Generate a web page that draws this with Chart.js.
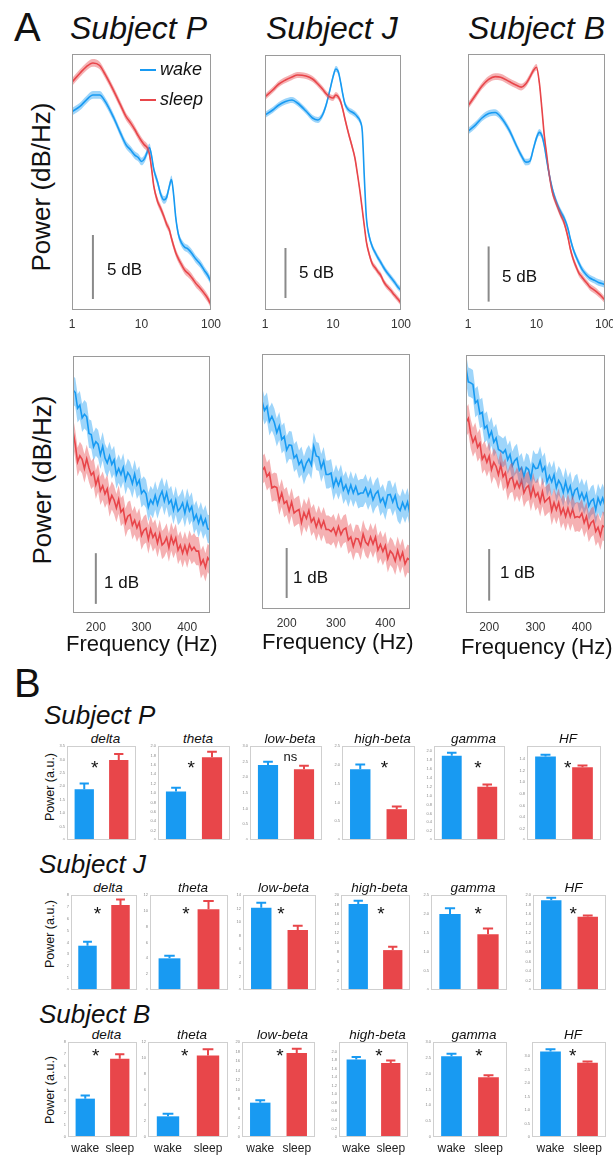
<!DOCTYPE html>
<html>
<head>
<meta charset="utf-8">
<script src="https://cdn.jsdelivr.net/npm/chart.js@4.4.0/dist/chart.umd.min.js"></script>
<style>
  body { margin: 0; background: #fff; }
  #fig { position: relative; width: 613px; height: 1157px; overflow: hidden;
         font-family: "Liberation Sans", Arial, sans-serif; color: #111; }
  #fig canvas { position: absolute; }
  .t { position: absolute; line-height: 1; white-space: nowrap; }
</style>
</head>
<body>
<div id="fig"></div>
<script>
// ---- data: low-frequency spectra (dB, arbitrary offset) ----
var loFreq = [1, 1.3, 1.6, 2, 2.5, 3, 4, 5, 6, 7, 8, 9, 10, 11, 12, 13, 14, 15, 17, 19, 21, 23, 25, 27, 29, 31, 34, 38, 42, 46, 50, 55, 60, 70, 80, 90, 100];
var pWakeLo = [15.5, 15.9, 16.4, 16.8, 16.8, 16.3, 15.0, 13.8, 12.9, 12.5, 12.1, 11.9, 11.6, 11.8, 12.3, 12.7, 12.0, 11.0, 10.0, 9.0, 8.6, 8.8, 9.6, 10.2, 9.0, 7.3, 5.9, 5.2, 4.9, 4.8, 4.6, 4.3, 4.0, 3.6, 3.1, 2.7, 2.2];
var pSleepLo = [17.8, 18.5, 19.0, 19.3, 19.1, 18.4, 17.1, 16.0, 15.1, 14.6, 14.1, 13.6, 13.2, 12.9, 12.7, 12.2, 11.0, 9.7, 8.5, 7.9, 7.3, 6.7, 6.3, 5.6, 5.0, 4.5, 4.0, 3.5, 3.1, 2.9, 2.7, 2.4, 2.1, 1.7, 1.3, 0.9, 0.4];
var jWakeLo = [19.5, 20.0, 20.5, 20.85, 21.0, 20.7, 19.9, 19.2, 19.0, 19.5, 20.6, 22.0, 23.3, 24.1, 23.8, 22.7, 21.5, 20.6, 20.0, 19.8, 19.6, 19.3, 18.9, 17.8, 13.0, 9.2, 7.4, 6.3, 5.7, 5.2, 4.8, 4.3, 3.9, 3.3, 2.8, 2.3, 2.0];
var jSleepLo = [21.3, 22.0, 22.6, 23.0, 23.3, 23.5, 23.4, 23.1, 22.6, 22.1, 21.6, 21.3, 21.2, 21.5, 21.3, 20.8, 20.0, 19.1, 17.6, 16.4, 15.2, 13.5, 11.8, 10.0, 8.3, 6.8, 5.6, 4.6, 4.2, 3.8, 3.5, 2.9, 2.5, 2.0, 1.5, 1.1, 0.7];
var bWakeLo = [16.2, 16.8, 17.4, 17.8, 17.9, 17.5, 16.3, 15.0, 14.0, 13.4, 13.5, 14.6, 15.6, 16.1, 15.8, 14.9, 13.7, 12.6, 11.0, 10.0, 9.3, 8.8, 8.4, 7.9, 7.3, 6.5, 5.6, 4.8, 4.2, 3.7, 3.4, 3.1, 2.9, 2.7, 2.5, 2.4, 2.3];
var bSleepLo = [18.5, 19.5, 20.3, 20.9, 21.15, 21.1, 20.7, 20.4, 20.2, 20.5, 21.1, 21.7, 22.0, 20.6, 18.2, 15.8, 14.2, 12.7, 10.7, 9.8, 9.1, 8.5, 8.0, 7.3, 6.5, 5.6, 4.7, 3.9, 3.3, 3.0, 2.7, 2.4, 2.1, 1.8, 1.5, 1.2, 0.9];
var loTicks = [1, 10, 100];
var loYMax = [20, 25.5, 23.2];
var loScaleBar = [0.86, 1.2, 0.76];   // bottom of the 5 dB bar
var loSem = 0.3;

// ---- data: high-frequency spectra ----
var hiFreq = [150, 155, 160, 165, 170, 175, 180, 185, 190, 195, 200, 205, 210, 215, 220, 225, 230, 235, 240, 245, 250, 255, 260, 265, 270, 275, 280, 285, 290, 295, 300, 305, 310, 315, 320, 325, 330, 335, 340, 345, 350, 355, 360, 365, 370, 375, 380, 385, 390, 395, 400, 405, 410, 415, 420, 425, 430, 435, 440, 445, 450];
var pWakeHi = [4.40, 4.35, 4.04, 4.10, 3.85, 3.92, 3.87, 3.54, 3.52, 3.28, 3.38, 3.33, 3.12, 3.29, 3.06, 2.96, 3.10, 2.93, 3.02, 2.73, 2.85, 2.73, 2.87, 2.62, 2.77, 2.70, 2.55, 2.74, 2.53, 2.62, 2.36, 2.42, 2.35, 2.09, 2.23, 2.15, 2.32, 2.14, 2.30, 2.40, 2.21, 2.37, 2.16, 2.23, 2.03, 2.22, 2.01, 2.07, 2.17, 1.97, 2.18, 2.01, 2.10, 1.84, 1.94, 1.77, 1.91, 1.74, 1.85, 1.66, 1.65];
var pSleepHi = [3.59, 3.32, 2.98, 3.10, 3.03, 2.85, 3.04, 2.86, 2.72, 2.78, 2.53, 2.67, 2.41, 2.51, 2.35, 2.45, 2.18, 2.32, 2.23, 2.07, 2.24, 1.99, 2.05, 1.78, 1.91, 1.94, 1.73, 1.83, 1.68, 1.79, 1.53, 1.63, 1.67, 1.45, 1.65, 1.49, 1.57, 1.38, 1.56, 1.34, 1.39, 1.49, 1.29, 1.51, 1.36, 1.48, 1.24, 1.34, 1.18, 1.33, 1.17, 1.35, 1.24, 1.30, 1.22, 1.22, 0.96, 1.05, 0.90, 1.09, 1.02];
var jWakeHi = [4.16, 3.97, 4.05, 3.75, 3.85, 3.73, 3.53, 3.66, 3.39, 3.45, 3.18, 3.28, 3.27, 3.02, 3.08, 2.89, 2.97, 2.77, 2.92, 3.00, 2.88, 3.25, 3.06, 3.04, 2.82, 2.96, 2.69, 2.69, 2.72, 2.45, 2.61, 2.47, 2.61, 2.38, 2.48, 2.32, 2.48, 2.32, 2.45, 2.29, 2.32, 2.32, 2.42, 2.26, 2.38, 2.18, 2.30, 2.36, 2.14, 2.22, 2.06, 2.28, 2.29, 2.14, 2.27, 2.04, 1.97, 2.13, 2.00, 2.14, 1.89];
var jSleepHi = [2.77, 2.83, 2.65, 2.72, 2.42, 2.45, 2.43, 2.16, 2.32, 2.11, 2.16, 1.96, 2.14, 1.92, 1.96, 1.99, 1.73, 1.93, 1.81, 1.97, 1.74, 1.82, 1.64, 1.79, 1.63, 1.76, 1.59, 1.59, 1.55, 1.62, 1.48, 1.65, 1.49, 1.59, 1.62, 1.38, 1.44, 1.25, 1.41, 1.40, 1.26, 1.50, 1.34, 1.28, 1.44, 1.30, 1.44, 1.18, 1.29, 1.15, 1.27, 1.01, 1.16, 1.10, 0.96, 1.17, 0.99, 1.13, 0.90, 1.01, 0.98];
var bWakeHi = [4.75, 4.48, 4.46, 4.43, 4.07, 4.12, 3.86, 3.89, 3.58, 3.63, 3.41, 3.52, 3.31, 3.39, 3.17, 3.14, 3.10, 3.16, 2.97, 3.07, 2.85, 2.95, 3.00, 2.76, 2.82, 2.64, 2.82, 2.78, 2.60, 2.88, 2.80, 2.81, 2.95, 2.75, 2.83, 2.54, 2.66, 2.54, 2.68, 2.43, 2.57, 2.49, 2.34, 2.54, 2.34, 2.46, 2.24, 2.38, 2.42, 2.22, 2.33, 2.19, 2.31, 2.07, 2.17, 2.21, 2.00, 2.23, 2.11, 2.23, 2.08];
var bSleepHi = [3.69, 3.77, 3.48, 3.31, 3.41, 3.21, 3.29, 2.98, 3.06, 2.92, 3.04, 2.78, 2.92, 2.84, 2.68, 2.87, 2.64, 2.72, 2.46, 2.60, 2.63, 2.43, 2.55, 2.43, 2.57, 2.33, 2.43, 2.47, 2.25, 2.44, 2.26, 2.33, 2.15, 2.35, 2.15, 2.20, 2.24, 1.98, 2.14, 2.00, 2.14, 1.92, 2.03, 1.87, 2.03, 1.87, 2.01, 1.85, 1.87, 1.85, 1.93, 1.75, 1.87, 1.65, 1.75, 1.79, 1.58, 1.66, 1.50, 1.69, 1.66];
var hiTicks = [200, 300, 400];
var hiYMax = [5.07, 5.1, 5.0];
var hiScaleBar = [0.18, 0.22, 0.24];  // bottom of the 1 dB bar
var hiSem = 0.28;

// ---- data: band power bars ----
var bands = ["delta", "theta", "low-beta", "high-beta", "gamma", "HF"];
var conditions = ["wake", "sleep"];
var wakeP = [1.89, 1.03, 2.39, 1.88, 1.90, 1.45];
var wakeErrP = [0.21, 0.08, 0.11, 0.13, 0.07, 0.03];
var sleepP = [2.98, 1.76, 2.26, 0.82, 1.20, 1.26];
var sleepErrP = [0.22, 0.12, 0.11, 0.07, 0.05, 0.03];
var wakeJ = [3.73, 4.0, 12.13, 18.1, 2.0, 1.89];
var wakeErrJ = [0.34, 0.34, 0.74, 0.7, 0.15, 0.05];
var sleepJ = [7.16, 10.19, 8.84, 8.4, 1.47, 1.54];
var sleepErrJ = [0.47, 1.05, 0.64, 0.7, 0.15, 0.03];
var wakeB = [3.23, 2.61, 7.23, 1.81, 2.55, 3.17];
var wakeErrB = [0.27, 0.34, 0.49, 0.06, 0.08, 0.08];
var sleepB = [6.6, 10.3, 17.7, 1.73, 1.89, 2.75];
var sleepErrB = [0.36, 0.77, 0.9, 0.06, 0.06, 0.05];
var yMaxP = [3.5, 2, 3, 2.5, 2.12, 1.63];
var yStepP = [0.5, 0.2, 0.5, 0.5, 0.2, 0.2];
var yMaxJ = [8, 12, 14, 20, 2.5, 2];
var yStepJ = [1, 2, 2, 2, 0.5, 0.2];
var yMaxB = [8, 12, 20, 2.22, 3, 3.52];
var yStepB = [1, 2, 2, 0.2, 0.5, 0.5];
var sigP = ["*", "*", "ns", "*", "*", "*"];
var sigJ = ["*", "*", "*", "*", "*", "*"];
var sigB = ["*", "*", "*", "*", "*", "*"];

// colours
var blue = "rgb(24,154,242)", red = "rgb(232,70,74)";
var blueBand = "rgba(24,154,242,0.42)", redBand = "rgba(232,70,74,0.42)";

var fig = document.getElementById("fig");

function text(str, x, base, size, italic, center) {
  var d = document.createElement("div");
  d.className = "t";
  d.textContent = str;
  d.style.fontSize = size + "px";
  d.style.top = (base - 0.8465 * size) + "px";
  d.style.left = x + "px";
  if (italic) d.style.fontStyle = "italic";
  if (center) d.style.transform = "translateX(-50%)";
  fig.appendChild(d);
}
function vtext(str, cx, cy, size) {
  var d = document.createElement("div");
  d.className = "t";
  d.textContent = str;
  d.style.fontSize = size + "px";
  d.style.left = cx + "px";
  d.style.top = cy + "px";
  d.style.transform = "translate(-50%,-50%) rotate(-90deg)";
  fig.appendChild(d);
}
function hline(x, y, w, color) {
  var d = document.createElement("div");
  d.style.cssText = "position:absolute;left:" + x + "px;top:" + (y - 1) + "px;width:" + w + "px;height:2px;background:" + color;
  fig.appendChild(d);
}

// canvas placed so that the chart area lands on box
function canvasFor(box, padL, padR, padT, axisH) {
  var c = document.createElement("canvas");
  c.width = box.w + padL + padR;
  c.height = box.h + padT + axisH;
  c.style.left = (box.x - padL) + "px";
  c.style.top = (box.y - padT) + "px";
  fig.appendChild(c);
  return c;
}
function fixX(h) { return function (s) { s.height = h; s.paddingLeft = 0; s.paddingRight = 0; }; }
function fixY(w) { return function (s) { s.width = w; s.paddingTop = 0; s.paddingBottom = 0; }; }

var framePlugin = {
  id: "frame",
  afterDraw: function (chart, args, opts) {
    var a = chart.chartArea, ctx = chart.ctx;
    ctx.save();
    ctx.strokeStyle = opts.color || "#999";
    ctx.lineWidth = 1;
    ctx.strokeRect(Math.round(a.left) + 0.5, Math.round(a.top) + 0.5, Math.round(a.right - a.left) - 1, Math.round(a.bottom - a.top) - 1);
    ctx.restore();
  }
};

var errPlugin = {
  id: "errbars",
  afterDatasetsDraw: function (chart) {
    var ds = chart.data.datasets[0];
    if (!ds.errors) return;
    var meta = chart.getDatasetMeta(0), y = chart.scales.y, ctx = chart.ctx;
    ctx.save();
    meta.data.forEach(function (el, i) {
      var top = y.getPixelForValue(ds.data[i] + ds.errors[i]);
      var half = el.width * 0.24;
      ctx.strokeStyle = ds.backgroundColor[i];
      ctx.lineWidth = 2;
      ctx.beginPath();
      ctx.moveTo(el.x, el.y);
      ctx.lineTo(el.x, top);
      ctx.moveTo(el.x - half, top);
      ctx.lineTo(el.x + half, top);
      ctx.stroke();
    });
    ctx.restore();
  }
};

var sigPlugin = {
  id: "sig",
  afterDraw: function (chart, args, opts) {
    if (!opts.text) return;
    var a = chart.chartArea, ctx = chart.ctx;
    var x = a.left + opts.fx * (a.right - a.left);
    var y = a.top + opts.fy * (a.bottom - a.top);
    ctx.save();
    ctx.fillStyle = "#111";
    ctx.textAlign = "center";
    if (opts.text === "*") {
      ctx.font = "19px 'Liberation Sans', Arial, sans-serif";
      ctx.textBaseline = "alphabetic";
      ctx.fillText("*", x, y + 10);
    } else {
      ctx.font = "13px 'Liberation Sans', Arial, sans-serif";
      ctx.textBaseline = "middle";
      ctx.fillText(opts.text, x, y);
    }
    ctx.restore();
  }
};

function shifted(freqs, vals, d) {
  return freqs.map(function (f, i) { return { x: f, y: vals[i] + d }; });
}
function points(freqs, vals) {
  return freqs.map(function (f, i) { return { x: f, y: vals[i] }; });
}

function spectrum(box, freqs, wake, sleep, sem, yMax, barLow, barLen, barX, log, ticks) {
  var axisH = 24, pad = 10;
  var c = canvasFor(box, pad, pad, pad, axisH);
  var smooth = log ? "monotone" : "default";
  var tension = log ? 0.4 : 0;
  function bandSet(vals, d, fill, color) {
    return { data: shifted(freqs, vals, d), borderWidth: 0, pointRadius: 0, fill: fill,
             backgroundColor: color, tension: tension, cubicInterpolationMode: smooth };
  }
  function lineSet(vals, color) {
    return { data: points(freqs, vals), borderColor: color, borderWidth: 1.6, pointRadius: 0,
             fill: false, tension: tension, cubicInterpolationMode: smooth };
  }
  new Chart(c, {
    type: "line",
    data: {
      datasets: [
        bandSet(sleep, -sem, false, redBand),
        bandSet(sleep, sem, "-1", redBand),
        bandSet(wake, -sem, false, blueBand),
        bandSet(wake, sem, "-1", blueBand),
        lineSet(sleep, red),
        lineSet(wake, blue),
        { data: [{ x: barX, y: barLow }, { x: barX, y: barLow + barLen }], borderColor: "#8a8a8a",
          borderWidth: 2, pointRadius: 0, fill: false }
      ]
    },
    options: {
      responsive: false, animation: false, events: [],
      layout: { padding: { left: pad, right: pad, top: pad, bottom: 0 } },
      plugins: { legend: { display: false }, tooltip: { enabled: false }, frame: { color: "#9a9a9a" } },
      scales: {
        x: {
          type: log ? "logarithmic" : "linear",
          min: freqs[0], max: freqs[freqs.length - 1],
          afterBuildTicks: function (s) { s.ticks = ticks.map(function (v) { return { value: v }; }); },
          afterFit: fixX(axisH),
          grid: { display: false, drawTicks: false }, border: { display: false },
          ticks: { autoSkip: false, maxRotation: 0, padding: 7, color: "#333",
                   font: { size: 12, family: "'Liberation Sans', Arial, sans-serif" },
                   callback: function (v) { return String(v); } }
        },
        y: { min: 0, max: yMax, display: false, afterFit: fixY(0) }
      }
    },
    plugins: [framePlugin]
  });
}

function bandBar(box, wake, wakeErr, sleep, sleepErr, yMax, step, sig, fx, fy, showX) {
  var yw = 10, pad = 8, axisH = showX ? 22 : 0;
  var c = canvasFor(box, pad + yw, pad, pad, axisH);
  new Chart(c, {
    type: "bar",
    data: {
      labels: conditions,
      datasets: [{ data: [wake, sleep], errors: [wakeErr, sleepErr], backgroundColor: [blue, red],
                   borderWidth: 0, barPercentage: 0.56, categoryPercentage: 1 }]
    },
    options: {
      responsive: false, animation: false, events: [],
      layout: { padding: { left: pad, right: pad, top: pad, bottom: 0 } },
      plugins: { legend: { display: false }, tooltip: { enabled: false }, frame: { color: "#cfcfcf" },
                 sig: { text: sig, fx: fx, fy: fy } },
      scales: {
        x: {
          display: showX, afterFit: fixX(axisH),
          grid: { display: false, drawTicks: false }, border: { display: false },
          ticks: { padding: 4, color: "#222", autoSkip: false, minRotation: 0, maxRotation: 0,
                   font: { size: 12, family: "'Liberation Sans', Arial, sans-serif" } }
        },
        y: {
          min: 0, max: yMax,
          afterBuildTicks: function (s) {
            s.ticks = s.ticks.filter(function (t) { var r = t.value / step; return Math.abs(r - Math.round(r)) < 1e-6; });
          },
          afterFit: fixY(yw),
          grid: { display: false, drawTicks: false }, border: { display: false },
          ticks: { stepSize: step, padding: 2, color: "#888", font: { size: 4 } }
        }
      }
    },
    plugins: [framePlugin, errPlugin, sigPlugin]
  });
}

// ---------- panel A ----------
text("A", 14, 41, 40, false, false);
text("Subject P", 70, 39, 32, true, false);
text("Subject J", 266, 39, 32, true, false);
text("Subject B", 468, 39, 32, true, false);
vtext("Power (dB/Hz)", 41, 187, 26);
vtext("Power (dB/Hz)", 42, 480, 26);

var loBoxes = [{ x: 72, y: 54, w: 139, h: 256 }, { x: 265, y: 55, w: 136, h: 255 }, { x: 468, y: 54, w: 137, h: 256 }];
var hiBoxes = [{ x: 73, y: 356, w: 137, h: 257 }, { x: 262, y: 354, w: 148, h: 255 }, { x: 466, y: 355, w: 139, h: 258 }];
var loWake = [pWakeLo, jWakeLo, bWakeLo], loSleep = [pSleepLo, jSleepLo, bSleepLo];
var hiWake = [pWakeHi, jWakeHi, bWakeHi], hiSleep = [pSleepHi, jSleepHi, bSleepHi];

for (var k = 0; k < 3; k++) {
  spectrum(loBoxes[k], loFreq, loWake[k], loSleep[k], loSem, loYMax[k], loScaleBar[k], 5, 2, true, loTicks);
  spectrum(hiBoxes[k], hiFreq, hiWake[k], hiSleep[k], hiSem, hiYMax[k], hiScaleBar[k], 1, 200, false, hiTicks);
}

var dB5 = [[107, 275], [299, 278], [502, 282]];
var dB1 = [[104, 588], [293, 583], [500, 578]];
var freqLab = [[66, 652], [262, 650], [461, 655]];
for (k = 0; k < 3; k++) {
  text("5 dB", dB5[k][0], dB5[k][1], 17, false, false);
  text("1 dB", dB1[k][0], dB1[k][1], 17, false, false);
  text("Frequency (Hz)", freqLab[k][0], freqLab[k][1], 22, false, false);
}

// legend
hline(140, 70, 16, blue);
hline(140, 100, 16, red);
text("wake", 160, 75, 18, true, false);
text("sleep", 160, 105, 18, true, false);

// ---------- panel B ----------
text("B", 14, 697, 40, false, false);
var subjects = ["Subject P", "Subject J", "Subject B"];
var subjBase = [724, 873, 1023];
var rows = [
  { top: 746, h: 94, titleBase: 743, fy: 0.19, cols: [[67, 69], [158, 72], [250, 72], [342, 73], [434, 71], [527, 74]] },
  { top: 895, h: 95, titleBase: 892, fy: 0.16, cols: [[71, 66], [150, 78], [243, 73], [341, 69], [431, 76], [533, 73]] },
  { top: 1042, h: 95, titleBase: 1039, fy: 0.11, cols: [[68, 69], [148, 80], [242, 73], [339, 69], [433, 74], [532, 74]] }
];
var starX = [0.4, 0.46, 0.52, 0.58, 0.62, 0.55];
var powerLabY = [787, 934, 1090];
var wakeAll = [wakeP, wakeJ, wakeB], wakeErrAll = [wakeErrP, wakeErrJ, wakeErrB];
var sleepAll = [sleepP, sleepJ, sleepB], sleepErrAll = [sleepErrP, sleepErrJ, sleepErrB];
var yMaxAll = [yMaxP, yMaxJ, yMaxB], yStepAll = [yStepP, yStepJ, yStepB], sigAll = [sigP, sigJ, sigB];

for (var r = 0; r < 3; r++) {
  text(subjects[r], r === 0 ? 44 : 39, subjBase[r], 26, true, false);
  vtext("Power (a.u.)", 50, powerLabY[r], 12.5);
  for (var b = 0; b < 6; b++) {
    var col = rows[r].cols[b];
    var box = { x: col[0], y: rows[r].top, w: col[1], h: rows[r].h };
    text(bands[b], col[0] + col[1] / 2 + 4, rows[r].titleBase, 13.5, true, true);
    var fx = sigAll[r][b] === "ns" ? 0.56 : starX[b];
    var fy = sigAll[r][b] === "ns" ? 0.12 : rows[r].fy;
    bandBar(box, wakeAll[r][b], wakeErrAll[r][b], sleepAll[r][b], sleepErrAll[r][b],
            yMaxAll[r][b], yStepAll[r][b], sigAll[r][b], fx, fy, r === 2);
  }
}
</script>
</body>
</html>
